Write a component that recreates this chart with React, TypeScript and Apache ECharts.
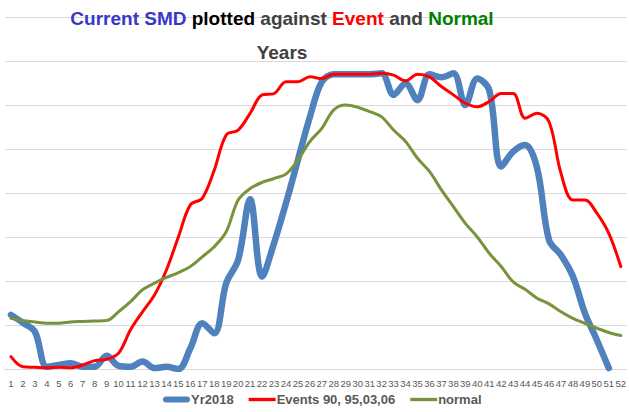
import React, { useEffect, useRef } from "react";
import * as echarts from "echarts";

const weeks: string[] = Array.from({ length: 52 }, (_, i) => String(i + 1));

const yr2018: (number | null)[] = [
  1.23, 1.05, 0.85, 0.05, 0.09, 0.13, 0.05, 0.05, 0.3, 0.07,
  0.05, 0.17, 0.02, 0.05, 0.0, 0.47, 1.04, 0.81, 1.95, 2.48,
  3.86, 2.1, 2.86, 3.77, 4.75, 5.73, 6.53, 6.7, 6.7, 6.7,
  6.7, 6.72, 6.23, 6.49, 6.11, 6.7, 6.63, 6.72, 6.0, 6.6,
  6.34, 4.6, 4.94, 5.09, 4.57, 2.93, 2.59, 2.1, 1.27, 0.66,
  0.02, null,
];

const events: number[] = [
  0.28, 0.05, 0.04, 0.03, 0.04, 0.03, 0.09, 0.19, 0.22, 0.36,
  0.89, 1.3, 1.68, 2.25, 3.0, 3.73, 3.88, 4.52, 5.32, 5.43,
  5.81, 6.23, 6.26, 6.53, 6.53, 6.64, 6.6, 6.7, 6.7, 6.7,
  6.7, 6.72, 6.68, 6.55, 6.7, 6.64, 6.42, 6.23, 6.04, 5.96,
  6.08, 6.26, 6.26, 5.7, 5.81, 5.62, 4.45, 3.84, 3.84, 3.54,
  3.08, 2.33,
];

const normal: number[] = [
  1.15, 1.1, 1.07, 1.04, 1.04, 1.07, 1.08, 1.09, 1.1, 1.3,
  1.53, 1.8, 1.95, 2.08, 2.19, 2.33, 2.55, 2.78, 3.12, 3.84,
  4.1, 4.24, 4.33, 4.43, 4.75, 5.17, 5.47, 5.89, 6.0, 5.95,
  5.85, 5.73, 5.43, 5.17, 4.79, 4.49, 4.07, 3.69, 3.31, 3.0,
  2.63, 2.33, 1.98, 1.81, 1.61, 1.48, 1.3, 1.15, 1.04, 0.93,
  0.83, 0.76,
];

const seriesNames = ["Yr2018", "Events 90, 95,03,06", "normal"];
const seriesColors = ["#4F81BD", "#FF0000", "#77933C"];

const FONT = "'Liberation Sans', Arial, sans-serif";

export default function App() {
  const ref = useRef<HTMLDivElement>(null);
  useEffect(() => {
    if (!ref.current) return;
    const chart = echarts.init(ref.current, null, { renderer: "svg" });
    const tf = { fontFamily: FONT, fontWeight: "bold" as const, fontSize: 19 };
    chart.setOption({
      animation: false,
      backgroundColor: "#FFFFFF",
      title: {
        text:
          "{b|Current SMD} {k|plotted} {g|against} {r|Event} {g|and} {n|Normal}\n{g|Years}",
        left: 282,
        top: 1,
        padding: 0,
        textAlign: "center",
        textStyle: {
          ...tf,
          lineHeight: 34,
          rich: {
            b: { ...tf, color: "#3838C8", lineHeight: 34 },
            k: { ...tf, color: "#000000", lineHeight: 34 },
            g: { ...tf, color: "#404040", lineHeight: 34 },
            r: { ...tf, color: "#FF0000", lineHeight: 34 },
            n: { ...tf, color: "#008000", lineHeight: 34 },
          },
        },
      },
      legend: {
        top: 393,
        left: 163,
        padding: 0,
        itemGap: 15,
        itemWidth: 27,
        itemHeight: 6,
        textStyle: {
          fontFamily: FONT,
          fontWeight: "bold",
          fontSize: 13,
          color: "#595959",
          padding: [0, 0, 0, -4],
        },
        data: [
          { name: seriesNames[0], icon: "path://M3,0h21a3,3 0 0 1 0,6h-21a3,3 0 0 1 0,-6z" },
          { name: seriesNames[1], icon: "path://M0,0h24v3h-24z" },
          { name: seriesNames[2], icon: "path://M0,0h24v3h-24z" },
        ],
      },
      grid: { left: 5, width: 627, top: 17, bottom: 43, containLabel: false },
      xAxis: {
        type: "category",
        data: weeks,
        boundaryGap: true,
        axisLine: { show: true, lineStyle: { color: "#D9D9D9", width: 1 } },
        axisTick: { show: false },
        axisLabel: {
          interval: 0,
          fontFamily: FONT,
          fontSize: 9.5,
          color: "#595959",
          margin: 9,
        },
      },
      yAxis: {
        type: "value",
        min: 0,
        max: 8,
        interval: 1,
        axisLine: { show: false },
        axisTick: { show: false },
        axisLabel: { show: false },
        splitLine: { lineStyle: { color: "#D9D9D9", width: 1 } },
      },
      series: [
        {
          name: seriesNames[0],
          type: "line",
          data: yr2018,
          smooth: 0.35,
          symbol: "none",
          lineStyle: { color: seriesColors[0], width: 6.5, cap: "round", join: "round" },
          itemStyle: { color: seriesColors[0] },
        },
        {
          name: seriesNames[1],
          type: "line",
          data: events,
          smooth: 0.35,
          symbol: "none",
          lineStyle: { color: seriesColors[1], width: 3, cap: "round", join: "round" },
          itemStyle: { color: seriesColors[1] },
        },
        {
          name: seriesNames[2],
          type: "line",
          data: normal,
          smooth: 0.35,
          symbol: "none",
          lineStyle: { color: seriesColors[2], width: 3, cap: "round", join: "round" },
          itemStyle: { color: seriesColors[2] },
        },
      ],
    });
    return () => chart.dispose();
  }, []);
  return <div ref={ref} style={{ width: 629, height: 412, position: "absolute", left: 0, top: 0 }} />;
}
